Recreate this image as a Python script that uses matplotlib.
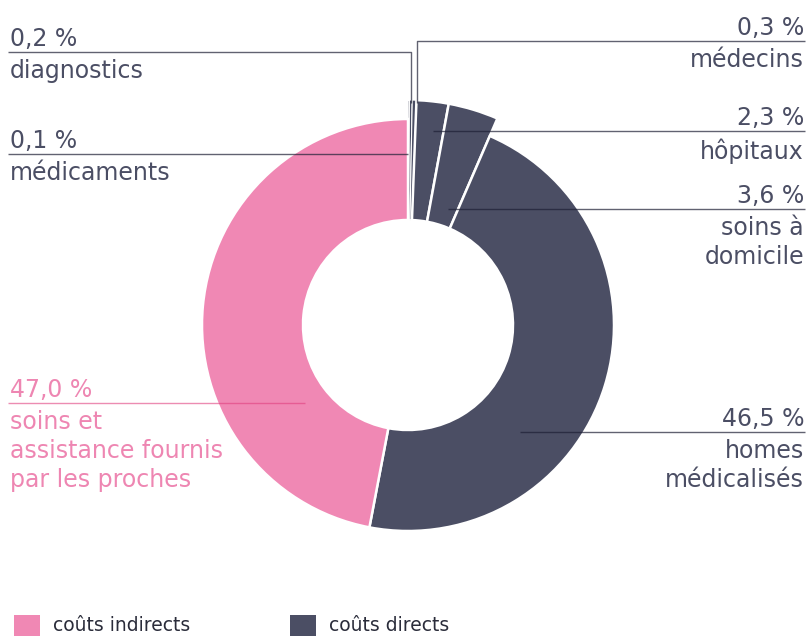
"""Donut: répartition des coûts (directs / indirects)"""
import matplotlib
matplotlib.use('Agg')
import matplotlib.pyplot as plt
from matplotlib.patches import Wedge, Rectangle

plt.rcParams['font.family'] = ['DejaVu Sans']

# data (clockwise from 12 o'clock)
categories = ['médicaments', 'diagnostics', 'médecins', 'hôpitaux',
              'soins à\ndomicile', 'homes\nmédicalisés',
              'soins et\nassistance fournis\npar les proches']
values = [0.1, 0.2, 0.3, 2.3, 3.6, 46.5, 47.0]
cost_type = ['direct', 'direct', 'direct', 'direct', 'direct', 'direct', 'indirect']
legend_labels = ['coûts indirects', 'coûts directs']

PINK = '#f088b4'
DARK = '#4b4e64'
PINK_TXT = '#ee86b2'
colors = {'direct': DARK, 'indirect': PINK}

W, H = 808, 636
fig = plt.figure(figsize=(W / 100, H / 100), dpi=100)
ax = fig.add_axes([0, 0, 1, 1])
ax.set_xlim(0, W)
ax.set_ylim(0, H)
ax.axis('off')

def Y(p):
    # pixel row (from top) -> data y
    return H - p

cx, cy = 408, Y(325)
R_IN, R_BIG, R_SMALL = 105, 206, 225

# wedges
total = sum(values)
cum = 0
for v, t in zip(values, cost_type):
    a0 = 90 - cum / total * 360
    a1 = 90 - (cum + v) / total * 360
    r = R_SMALL if v < 5 else R_BIG
    lw = 0.8 if v < 0.5 else 1.8
    ax.add_patch(Wedge((cx, cy), r, a1, a0, width=r - R_IN,
                       facecolor=colors[t], edgecolor='white',
                       linewidth=lw, zorder=2))
    cum += v

# label layout: (side, line y, leader path)
layout = [
    ('L', 154, [(8, 154), (408, 154)]),
    ('L', 52, [(8, 52), (411, 52), (411, 103)]),
    ('R', 41, [(805, 41), (417, 41), (417, 103)]),
    ('R', 131, [(805, 131), (433, 131)]),
    ('R', 209, [(805, 209), (448, 209)]),
    ('R', 432, [(805, 432), (520, 432)]),
    ('L', 403, [(8, 403), (305, 403)]),
]

FS = 17
for cat, v, t, (side, ly, path) in zip(categories, values, cost_type, layout):
    pct = f'{v:.1f} %'.replace('.', ',')
    if t == 'indirect':
        tc, lc, la = PINK_TXT, '#e0407f', 0.6
    else:
        tc, lc, la = DARK, '#1e2035', 0.7
    xs = [p[0] for p in path]
    ys = [Y(p[1]) for p in path]
    ax.plot(xs, ys, color=lc, alpha=la, lw=1.0, zorder=3,
            solid_capstyle='butt')
    x = 10 if side == 'L' else 804
    ha = 'left' if side == 'L' else 'right'
    ax.text(x, Y(ly - 6), pct, ha=ha, va='baseline', fontsize=FS, color=tc)
    ax.text(x, Y(ly + 7), cat, ha=ha, va='top', fontsize=FS, color=tc,
            linespacing=1.25)

# legend (squares cut at bottom edge as in source)
for (lx, c), lab in zip([(14, PINK), (290, DARK)], legend_labels):
    ax.add_patch(Rectangle((lx, Y(642)), 26, 27, facecolor=c,
                           edgecolor='none', clip_on=False))
    ax.text(lx + 39, Y(635), lab, ha='left', va='bottom',
            fontsize=13.5, color='#2a2c3a')

fig.savefig('out.png', dpi=100, facecolor='white')
